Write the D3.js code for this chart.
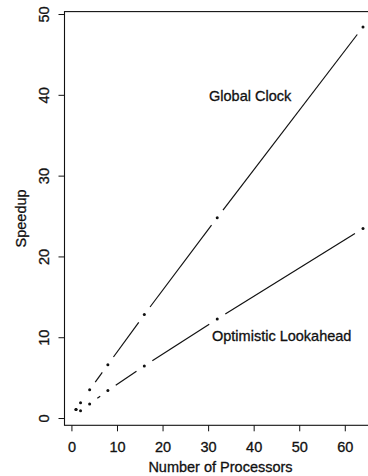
<!DOCTYPE html>
<html>
<head>
<meta charset="utf-8">
<script src="https://cdn.jsdelivr.net/npm/d3@7"></script>
<style>
  body { margin: 0; background: #fff; }
  svg { display: block; font-family: "Liberation Sans", Arial, sans-serif; }
  text { stroke: #111; stroke-width: 0.3px; }
</style>
</head>
<body>
<div id="chart"></div>
<script>
const processors = [1, 2, 4, 8, 16, 32, 64]
const globalClock = [1.05, 1.9, 3.5, 6.6, 12.8, 24.8, 48.4]
const optimistic = [1.05, 0.9, 1.75, 3.4, 6.45, 12.25, 23.45]
const xTicks = [0, 10, 20, 30, 40, 50, 60]
const yTicks = [0, 10, 20, 30, 40, 50]

const width = 368
const height = 476
const ink = "#111"
const fontSize = "14.5px"

const svg = d3.select("#chart").append("svg")
    .attr("width", width)
    .attr("height", height)

const x = d3.scaleLinear().domain([-1.52, 66.52]).range([64.5, 374.5])
const y = d3.scaleLinear().domain([-0.9, 50.3]).range([425.3, 11.6])

// box
svg.append("rect")
    .attr("x", x.range()[0])
    .attr("y", y.range()[1])
    .attr("width", x.range()[1] - x.range()[0])
    .attr("height", y.range()[0] - y.range()[1])
    .attr("fill", "none")
    .attr("stroke", ink)
    .attr("stroke-width", 1.1)

// axes
const xAxis = svg.append("g")
    .attr("transform", `translate(0,${y.range()[0]})`)
    .call(d3.axisBottom(x).tickValues(xTicks).tickSize(6).tickPadding(10.5))
const yAxis = svg.append("g")
    .attr("transform", `translate(${x.range()[0]},0)`)
    .call(d3.axisLeft(y).tickValues(yTicks).tickSize(6).tickPadding(5))

xAxis.select(".domain").remove()
yAxis.select(".domain").remove()
svg.selectAll(".tick line").attr("stroke", ink)
svg.selectAll(".tick text")
    .attr("fill", ink)
    .style("font-size", fontSize)
    .style("font-family", "'Liberation Sans', Arial, sans-serif")

// y tick labels run parallel to the axis
yAxis.selectAll(".tick text")
    .attr("transform", "rotate(-90)")
    .attr("x", 0)
    .attr("y", -21)
    .attr("dy", "0.35em")
    .attr("text-anchor", "middle")

// axis titles
svg.append("text")
    .attr("x", 220.5)
    .attr("y", 472)
    .attr("text-anchor", "middle")
    .attr("fill", ink)
    .style("font-size", fontSize)
    .text("Number of Processors")

svg.append("text")
    .attr("transform", `translate(26,${(y.range()[0] + y.range()[1]) / 2}) rotate(-90)`)
    .attr("text-anchor", "middle")
    .attr("fill", ink)
    .style("font-size", fontSize)
    .text("Speedup")

// type "b" lines: points with gapped segments
const gap = 9.5
function drawSeries(values) {
    const pts = processors.map((p, i) => [x(p), y(values[i])])
    const segs = []
    for (let i = 0; i < pts.length - 1; i++) {
        const [x0, y0] = pts[i]
        const [x1, y1] = pts[i + 1]
        const d = Math.hypot(x1 - x0, y1 - y0)
        if (d <= 2 * gap) continue
        const ux = (x1 - x0) / d, uy = (y1 - y0) / d
        segs.push([x0 + ux * gap, y0 + uy * gap, x1 - ux * gap, y1 - uy * gap])
    }
    svg.append("g").selectAll("line")
        .data(segs)
        .join("line")
        .attr("x1", (d) => d[0])
        .attr("y1", (d) => d[1])
        .attr("x2", (d) => d[2])
        .attr("y2", (d) => d[3])
        .attr("stroke", ink)
        .attr("stroke-width", 1.2)
    svg.append("g").selectAll("circle")
        .data(pts)
        .join("circle")
        .attr("cx", (d) => d[0])
        .attr("cy", (d) => d[1])
        .attr("r", 1.5)
        .attr("fill", ink)
}
drawSeries(globalClock)
drawSeries(optimistic)

// series labels
svg.append("text")
    .attr("x", 209)
    .attr("y", 101)
    .attr("fill", ink)
    .style("font-size", fontSize)
    .text("Global Clock")

svg.append("text")
    .attr("x", 212)
    .attr("y", 341)
    .attr("fill", ink)
    .style("font-size", fontSize)
    .text("Optimistic Lookahead")
</script>
</body>
</html>
